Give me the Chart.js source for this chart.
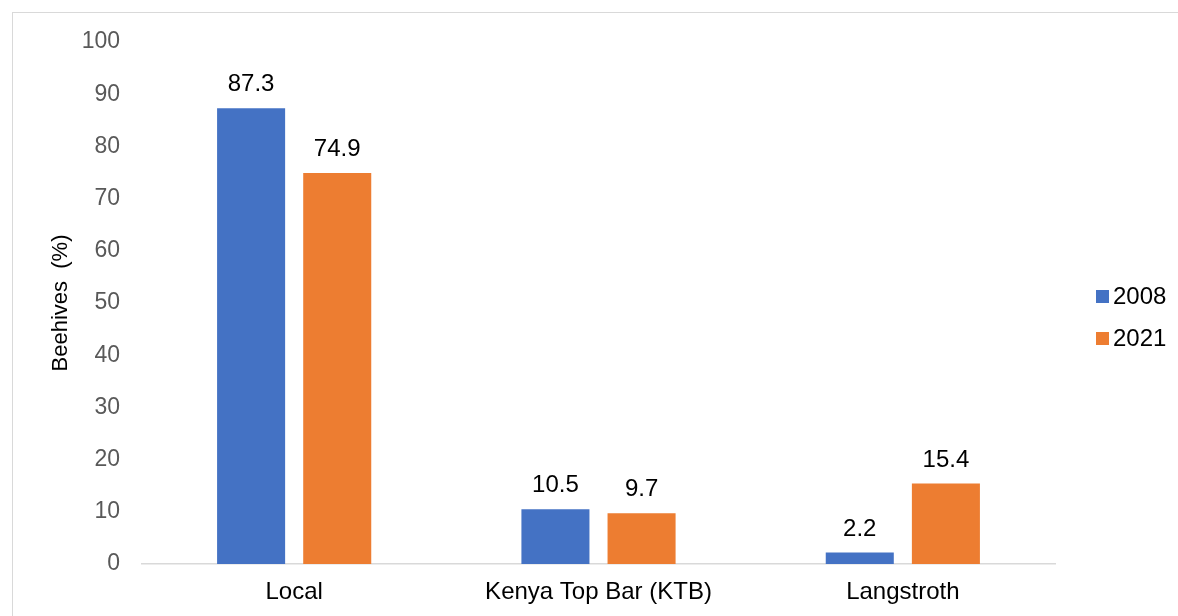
<!DOCTYPE html>
<html>
<head>
<meta charset="utf-8">
<script src="https://cdn.jsdelivr.net/npm/chart.js@4"></script>
<style>
  html, body { margin: 0; padding: 0; background: #fff; }
  #wrap { position: relative; width: 1178px; height: 616px; overflow: hidden; }
  #frame { position: absolute; left: 12px; top: 12px; width: 1200px; height: 640px; border: 1px solid #d9d9d9; box-sizing: border-box; }
  canvas { position: absolute; left: 0; top: 0; }
</style>
</head>
<body>
<div id="wrap">
  <div id="frame"></div>
  <canvas id="chart" width="1178" height="616"></canvas>
</div>
<script>
const categories = ["Local", "Kenya Top Bar (KTB)", "Langstroth"];
const seriesNames = ["2008", "2021"];
const values2008 = [87.3, 10.5, 2.2];
const values2021 = [74.9, 9.7, 15.4];
const yTicks = [0, 10, 20, 30, 40, 50, 60, 70, 80, 90, 100];
const yTitle = "Beehives  (%)";

const FONT = "'Liberation Sans', Arial, sans-serif";

// value labels above each bar
const barLabels = {
  id: "barLabels",
  afterDatasetsDraw(chart) {
    const ctx = chart.ctx;
    ctx.save();
    ctx.font = "24px " + FONT;
    ctx.fillStyle = "#000";
    ctx.textAlign = "center";
    ctx.textBaseline = "alphabetic";
    chart.data.datasets.forEach((ds, i) => {
      chart.getDatasetMeta(i).data.forEach((bar, j) => {
        ctx.fillText(String(ds.data[j]), bar.x, bar.y - 17);
      });
    });
    ctx.restore();
  }
};

// legend on the right + rotated axis title
const extras = {
  id: "extras",
  afterDraw(chart) {
    const ctx = chart.ctx;
    const area = chart.chartArea;
    ctx.save();
    ctx.font = "24px " + FONT;
    ctx.textBaseline = "middle";
    ctx.textAlign = "left";
    chart.data.datasets.forEach((ds, i) => {
      const y = 296 + i * 42;
      ctx.fillStyle = ds.backgroundColor;
      ctx.fillRect(1096, y - 6, 13, 13);
      ctx.fillStyle = "#000";
      ctx.fillText(ds.label, 1113, y + 1);
    });

    ctx.translate(61, (area.top + area.bottom) / 2);
    ctx.rotate(-Math.PI / 2);
    ctx.font = "22px " + FONT;
    ctx.textAlign = "center";
    ctx.fillText(yTitle, 0, 0);
    ctx.restore();
  }
};

const ctx = document.getElementById("chart").getContext("2d");
new Chart(ctx, {
  type: "bar",
  data: {
    labels: categories,
    datasets: [
      { label: seriesNames[0], data: values2008, backgroundColor: "#4472C4" },
      { label: seriesNames[1], data: values2021, backgroundColor: "#ED7D31" }
    ]
  },
  options: {
    responsive: false,
    animation: false,
    devicePixelRatio: 1,
    layout: { padding: { left: 0, top: 42, right: 123, bottom: 0 } },
    categoryPercentage: 0.566,
    barPercentage: 0.79,
    plugins: {
      legend: { display: false },
      tooltip: { enabled: false }
    },
    scales: {
      x: {
        grid: { display: false, drawTicks: false },
        border: { display: true, color: "#d9d9d9", width: 1.5 },
        ticks: { color: "#000", font: { family: FONT, size: 24 }, padding: 14 },
        afterFit(s) { s.height = 52; }
      },
      y: {
        min: 0,
        max: 100,
        afterBuildTicks(s) { s.ticks = yTicks.map(v => ({ value: v })); },
        grid: { display: false, drawTicks: false },
        border: { display: false },
        ticks: { color: "#595959", font: { family: FONT, size: 23 }, padding: 22 },
        afterFit(s) { s.width = 142; }
      }
    }
  },
  plugins: [barLabels, extras]
});
</script>
</body>
</html>
